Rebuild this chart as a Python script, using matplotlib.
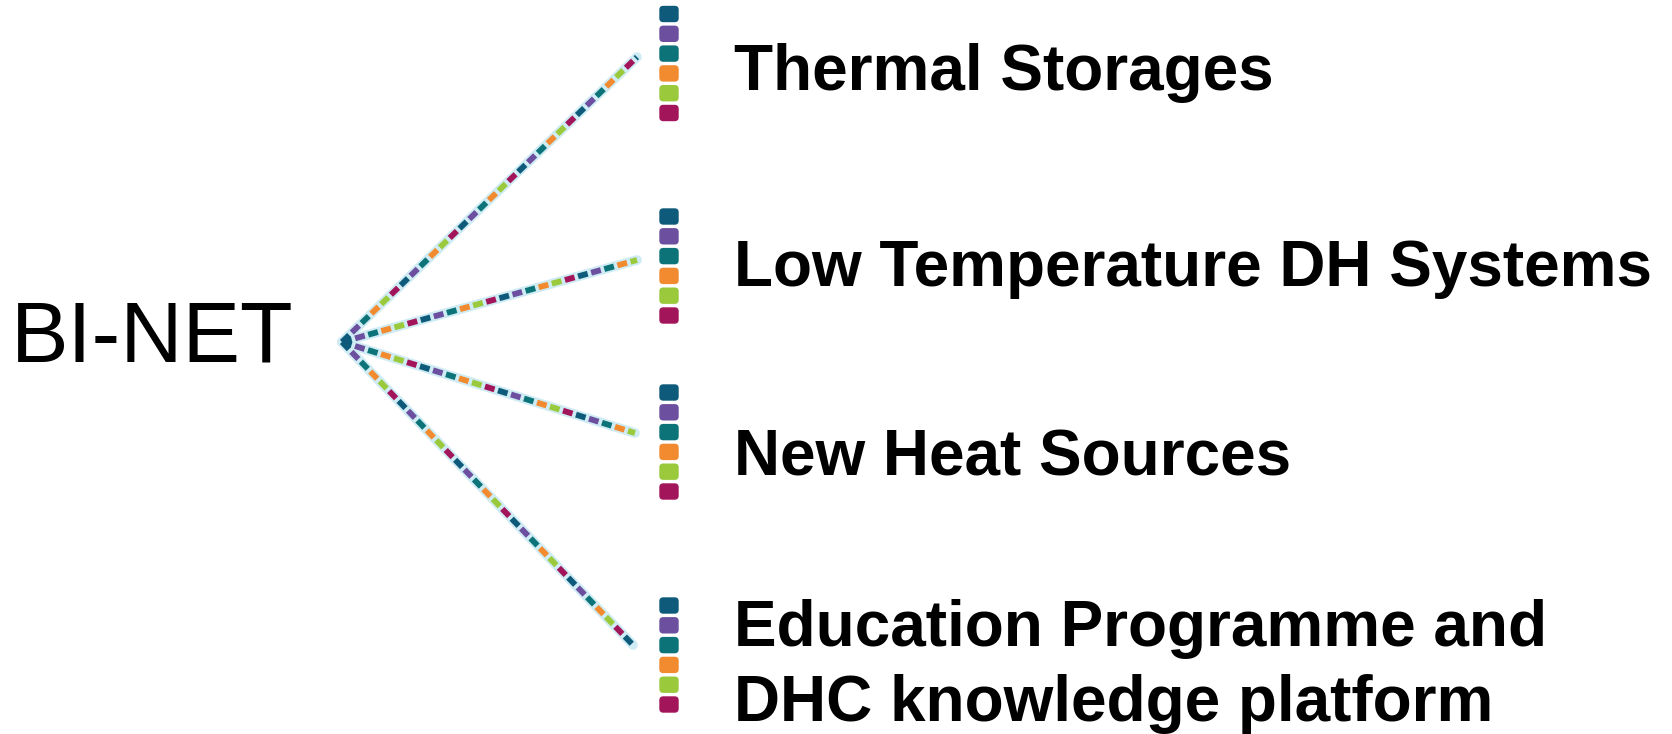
import matplotlib.pyplot as plt
from matplotlib.patches import FancyBboxPatch

plt.rcParams["font.family"] = ["Liberation Sans", "DejaVu Sans"]
plt.rcParams["lines.scale_dashes"] = False

# diagram content
root_label = "BI-NET"
branch_labels = ["Thermal Storages",
                 "Low Temperature DH Systems",
                 "New Heat Sources",
                 "Education Programme and\nDHC knowledge platform"]
palette = ["#0e5a7a", "#6d4f9f", "#0c7378", "#f28b30", "#9bc93c", "#a3155a"]

# layout (pixel space of the 1672x734 figure)
root_xy = (342, 342)
branch_ends = [(637, 57), (637, 260), (635, 433), (633, 645)]
stack_top = [14, 216.5, 392.5, 605.5]
label_baseline = [90, 286, 476, 646]

fig = plt.figure(figsize=(16.72, 7.34), dpi=100)
ax = fig.add_axes([0, 0, 1, 1])
ax.set_xlim(0, 1672)
ax.set_ylim(734, 0)
ax.axis("off")

# dashed multicoloured branches
dash, gap = 7.2, 2.6  # points
period = len(palette) * (dash + gap)
for (ex, ey) in branch_ends:
    xs = [root_xy[0], ex]
    ys = [root_xy[1], ey]
    ax.plot(xs, ys, color="#cfecf4", lw=7, solid_capstyle="round", zorder=1)
    for k, c in enumerate(palette):
        ax.plot(xs, ys, color=c, lw=4.2, dash_capstyle="butt",
                linestyle=(-k * (dash + gap), (dash, period - dash)), zorder=2)

# colour stacks next to each label
sq_w, sq_h, step = 15, 12, 19.8
for top in stack_top:
    for k, c in enumerate(palette):
        cy = top + k * step
        ax.add_patch(FancyBboxPatch((669 - sq_w / 2, cy - sq_h / 2), sq_w, sq_h,
                                    boxstyle="round,pad=2.2,rounding_size=4",
                                    fc=c, ec="none", zorder=3))

# labels
ax.text(11, 362, root_label, fontsize=62, color="black", va="baseline", ha="left")
for lab, base in zip(branch_labels, label_baseline):
    ax.text(734, base, lab.split("\n")[0], fontsize=46, fontweight="bold",
            va="baseline", ha="left")
    if "\n" in lab:
        ax.text(734, base + 75, lab.split("\n")[1], fontsize=46, fontweight="bold",
                va="baseline", ha="left")

fig.savefig("out.png", dpi=100)
